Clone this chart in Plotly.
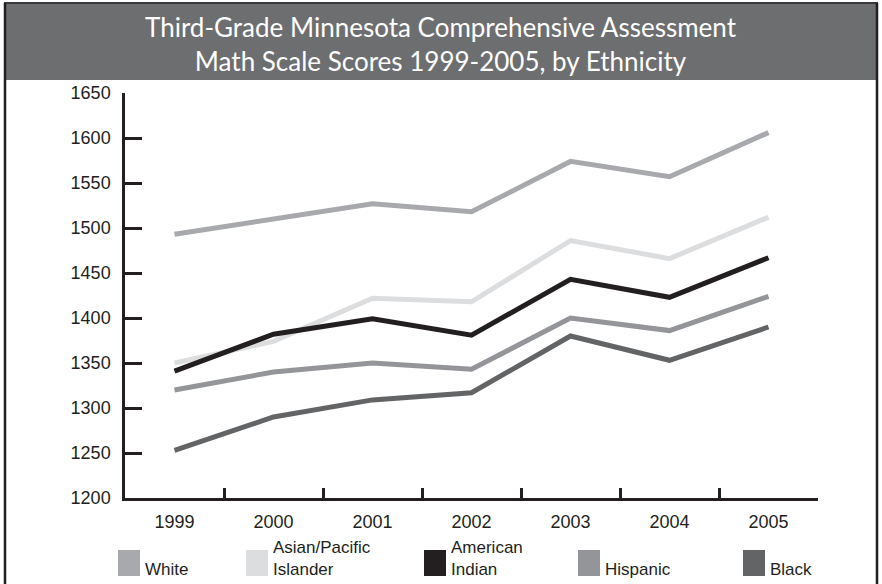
import plotly.graph_objects as go

years = ["1999", "2000", "2001", "2002", "2003", "2004", "2005"]
white = [1493, 1510, 1527, 1518, 1574, 1557, 1606]
asian = [1350, 1374, 1422, 1418, 1486, 1466, 1512]
am_indian = [1341, 1382, 1399, 1381, 1443, 1423, 1467]
hispanic = [1320, 1340, 1350, 1343, 1400, 1386, 1424]
black = [1253, 1290, 1309, 1317, 1380, 1353, 1390]

names = ["White", "Asian/Pacific<br>Islander", "American<br>Indian", "Hispanic", "Black"]
series = [white, asian, am_indian, hispanic, black]
colors = ["#a7a9ac", "#dcddde", "#231f20", "#939598", "#636466"]

W, H = 882, 584
L, R, T, B = 125, 64, 93, 86


def px_x(x):
    return (x - L) / (W - L - R)


def px_y(y):
    return (H - B - y) / (H - T - B)


fig = go.Figure()
# lighter lines first so the black one sits on top where they cross
for i in [0, 3, 4, 1, 2]:
    fig.add_trace(go.Scatter(x=years, y=series[i], mode="lines", name=names[i],
                             line=dict(color=colors[i], width=5), showlegend=False))

shapes = [
    # title band
    dict(type="rect", xref="paper", yref="paper", x0=px_x(5), x1=px_x(877),
         y0=px_y(80), y1=px_y(4), fillcolor="#6d6e70", line=dict(width=0), layer="below"),
    # frame
    dict(type="line", xref="paper", yref="paper", x0=px_x(4), x1=px_x(878),
         y0=px_y(3), y1=px_y(3), line=dict(color="#3a3a3c", width=2)),
    dict(type="line", xref="paper", yref="paper", x0=px_x(5), x1=px_x(5),
         y0=px_y(3), y1=px_y(590), line=dict(color="#231f20", width=2.5)),
    dict(type="line", xref="paper", yref="paper", x0=px_x(877), x1=px_x(877),
         y0=px_y(3), y1=px_y(590), line=dict(color="#231f20", width=2.5)),
]

# custom legend: square swatch with bottom-aligned label
leg_x = [118, 246, 424, 578, 743]
annotations = []
for i, name in enumerate(names):
    x0 = leg_x[i]
    shapes.append(dict(type="rect", xref="paper", yref="paper",
                       x0=px_x(x0), x1=px_x(x0 + 22), y0=px_y(576), y1=px_y(550),
                       fillcolor=colors[i], line=dict(width=0)))
    annotations.append(dict(text=name, xref="paper", yref="paper",
                            x=px_x(x0 + 25), y=px_y(581), xanchor="left", yanchor="bottom",
                            align="left", showarrow=False,
                            font=dict(family="Liberation Sans", size=17, color="#231f20")))

annotations.append(dict(
    text="Third-Grade Minnesota Comprehensive Assessment<br>Math Scale Scores 1999-2005, by Ethnicity",
    xref="paper", yref="paper", x=px_x(441), y=px_y(44), xanchor="center", yanchor="middle",
    showarrow=False, font=dict(family="Lato", size=26, color="white")))

fig.update_layout(
    width=W, height=H,
    margin=dict(l=L, r=R, t=T, b=B),
    paper_bgcolor="white", plot_bgcolor="white",
    shapes=shapes, annotations=annotations,
    showlegend=False,
    xaxis=dict(type="category", range=[-0.5, 6.5], tickson="boundaries",
               ticks="inside", ticklen=10, tickwidth=2.5, tickcolor="#231f20",
               showline=True, linewidth=2.5, linecolor="#231f20", showgrid=False,
               zeroline=False, ticklabelstandoff=6,
               tickfont=dict(family="Liberation Sans", size=18, color="#231f20")),
    yaxis=dict(range=[1200, 1650], dtick=50, ticks="inside", ticklen=17, tickwidth=2.5,
               tickcolor="#231f20", showline=True, linewidth=2.5, linecolor="#231f20",
               showgrid=False, zeroline=False, ticklabelstandoff=8,
               tickfont=dict(family="Liberation Sans", size=18, color="#231f20")),
)

fig.write_html("out.html", config={"displayModeBar": False},
               post_script="document.body.style.margin='0';")
